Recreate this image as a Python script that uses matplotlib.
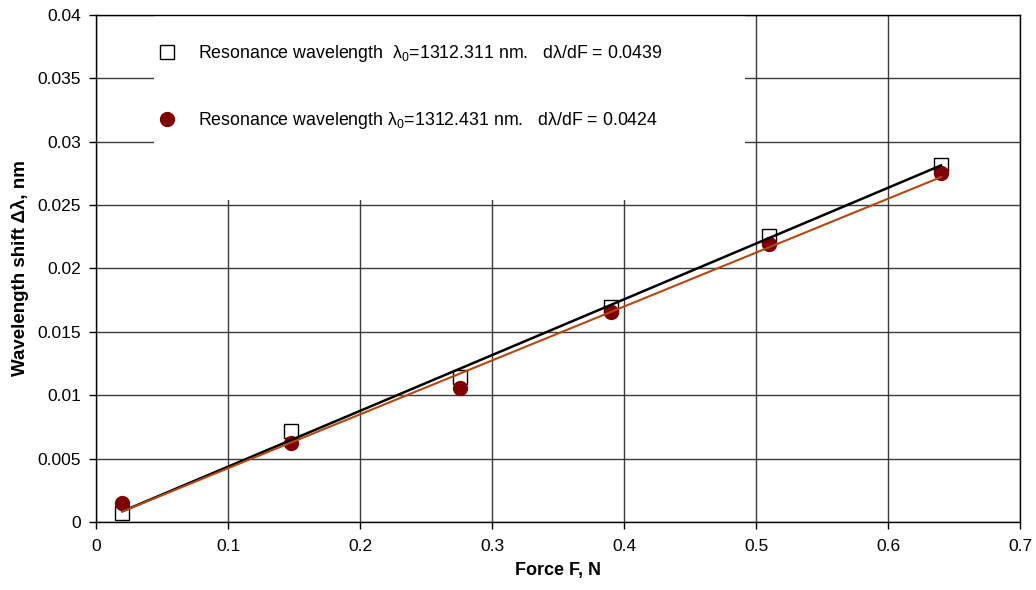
import numpy as np
import matplotlib
matplotlib.use("Agg")
import matplotlib.pyplot as plt
from matplotlib.patches import Rectangle

plt.rcParams["font.family"] = ["Liberation Sans", "DejaVu Sans"]
plt.rcParams["mathtext.fontset"] = "custom"
plt.rcParams["mathtext.rm"] = "Liberation Sans"
plt.rcParams["mathtext.it"] = "Liberation Sans:italic"

# данные
force = [0.02, 0.148, 0.276, 0.39, 0.51, 0.64]
shift_1 = [0.0007, 0.0072, 0.0114, 0.0170, 0.0226, 0.0282]
shift_2 = [0.0015, 0.0062, 0.0106, 0.0166, 0.0219, 0.0275]

label_1 = r"Resonance wavelength  $\mathregular{\lambda_0}$=1312.311 nm.   d$\mathregular{\lambda}$/dF = 0.0439"
label_2 = r"Resonance wavelength $\mathregular{\lambda_0}$=1312.431 nm.   d$\mathregular{\lambda}$/dF = 0.0424"

x_ticks = [0, 0.1, 0.2, 0.3, 0.4, 0.5, 0.6, 0.7]
y_ticks = [0, 0.005, 0.01, 0.015, 0.02, 0.025, 0.03, 0.035, 0.04]

fig = plt.figure(figsize=(10.36, 5.9), dpi=100)
ax = fig.add_axes([0.0927, 0.1153, 0.892, 0.8593])

ax.set_axisbelow(True)
ax.grid(True, color="#3a3a3a", linewidth=1.0)

# белая подложка под легендой (закрывает сетку)
ax.add_patch(Rectangle((0.0628, 0.635), 0.6392, 0.365, transform=ax.transAxes,
                       facecolor="white", edgecolor="none", zorder=1))

ax.plot(force, shift_1, linestyle="none", marker="s", markersize=9.5,
        markerfacecolor="white", markeredgecolor="black", markeredgewidth=1.0,
        zorder=3, label=label_1)
ax.plot(force, shift_2, linestyle="none", marker="o", markersize=10,
        markerfacecolor="#800000", markeredgecolor="#800000",
        zorder=4, label=label_2)

# линейная аппроксимация
fx = np.array([force[0], force[-1]])
k1, b1 = np.polyfit(force, shift_1, 1)
k2, b2 = np.polyfit(force, shift_2, 1)
ax.plot(fx, k1 * fx + b1, color="black", linewidth=1.8, zorder=5)
ax.plot(fx, k2 * fx + b2, color="#B5470F", linewidth=1.5, zorder=5)

ax.set_xlim(0, 0.7)
ax.set_ylim(0, 0.04)
ax.set_xticks(x_ticks)
ax.set_yticks(y_ticks)
ax.set_xticklabels([f"{v:g}" for v in x_ticks])
ax.set_yticklabels([f"{v:g}" for v in y_ticks])
ax.tick_params(direction="out", length=5, width=1, labelsize=12.5, color="black")
ax.tick_params(axis="y", pad=6)
ax.tick_params(axis="x", pad=7)
for s in ax.spines.values():
    s.set_color("black")
    s.set_linewidth(1.0)

ax.set_xlabel("Force F, N", fontsize=13, fontweight="bold", labelpad=6)
ax.set_ylabel("Wavelength shift Δλ, nm", fontsize=13.5, fontweight="bold", labelpad=6)

leg = ax.legend(loc="upper left", bbox_to_anchor=(0.0498, 0.959), frameon=False,
                fontsize=12.8, labelspacing=2.62, handletextpad=0.74,
                borderaxespad=0)
leg.set_zorder(6)

fig.savefig("out.png", dpi=100)
